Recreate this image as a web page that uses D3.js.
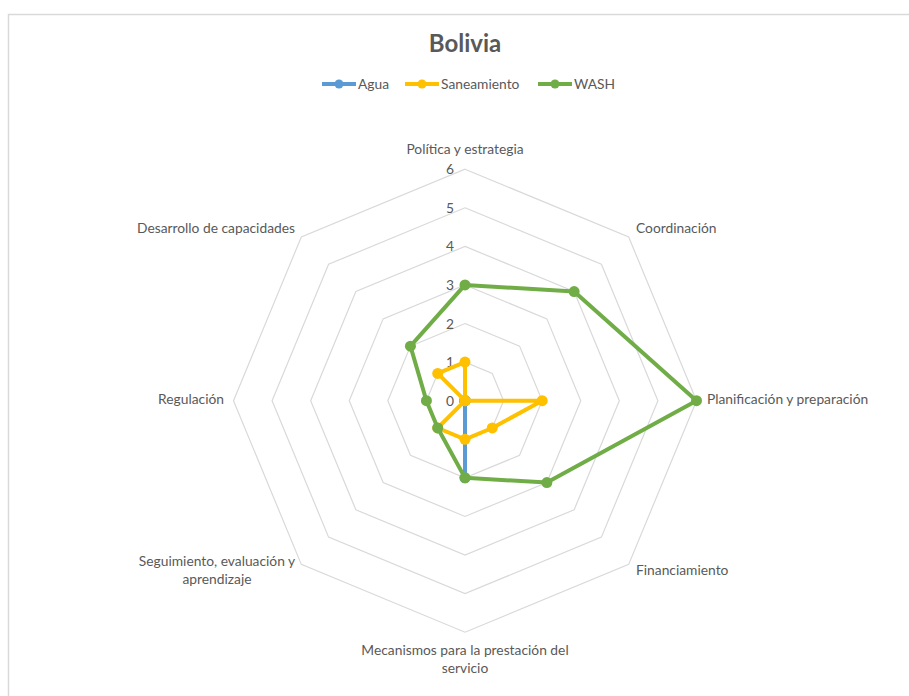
<!DOCTYPE html>
<html>
<head>
<meta charset="utf-8">
<script src="https://cdn.jsdelivr.net/npm/d3@7"></script>
<style>
  body { margin: 0; background: #fff; }
  text { font-family: Lato, "Open Sans", sans-serif; fill: #595959; }
</style>
</head>
<body>
<div id="wrapper"></div>
<script>
// data
const categories = [
  "Política y estrategia",
  "Coordinación",
  "Planificación y preparación",
  "Financiamiento",
  "Mecanismos para la prestación del servicio",
  "Seguimiento, evaluación y aprendizaje",
  "Regulación",
  "Desarrollo de capacidades"
]
const agua = [0, 0, 0, 0, 2, 0, 0, 0]
const saneamiento = [1, 0, 2, 1, 1, 1, 0, 1]
const wash = [3, 4, 6, 3, 2, 1, 1, 2]
const ticks = [0, 1, 2, 3, 4, 5, 6]

const series = [
  { name: "Agua", values: agua, color: "#5B9BD5" },
  { name: "Saneamiento", values: saneamiento, color: "#FFC000" },
  { name: "WASH", values: wash, color: "#70AD47" },
]

const width = 909
const height = 696
const cx = 465
const cy = 400.7
const fs = "13.8px"

const svg = d3.select("#wrapper")
  .append("svg")
  .attr("width", width)
  .attr("height", height)

// chart border
svg.append("rect")
  .attr("x", 8.5).attr("y", 14.5)
  .attr("width", 920).attr("height", 700)
  .attr("fill", "none")
  .attr("stroke", "#d9d9d9")
  .attr("stroke-width", 1.5)

svg.append("text")
  .attr("x", cx).attr("y", 52)
  .attr("text-anchor", "middle")
  .style("font-size", "24px")
  .style("font-weight", "bold")
  .text("Bolivia")

// scales
const rScale = d3.scaleLinear().domain([0, 6]).range([0, 231.5])
const angle = d3.scaleLinear().domain([0, categories.length]).range([0, 2 * Math.PI])

function pt(i, v) {
  const a = angle(i)
  return [cx + rScale(v) * Math.sin(a), cy - rScale(v) * Math.cos(a)]
}

const g = svg.append("g")

// grid octagons
g.selectAll(".grid")
  .data(ticks.filter(t => t > 0))
  .join("polygon")
  .attr("points", t => categories.map((c, i) => pt(i, t).join(",")).join(" "))
  .attr("fill", "none")
  .attr("stroke", "#d9d9d9")
  .attr("stroke-width", 1.2)

// tick labels
g.selectAll(".tick")
  .data(ticks)
  .join("text")
  .attr("x", cx - 11)
  .attr("y", t => cy - rScale(t) + 5)
  .attr("text-anchor", "end")
  .style("font-size", fs)
  .text(t => t)

// category labels
const labelPos = [
  { x: 465, y: 154, anchor: "middle", lines: ["Política y estrategia"] },
  { x: 636, y: 233, anchor: "start", lines: ["Coordinación"] },
  { x: 707, y: 404, anchor: "start", lines: ["Planificación y preparación"] },
  { x: 636, y: 575, anchor: "start", lines: ["Financiamiento"] },
  { x: 465, y: 655, anchor: "middle", lines: ["Mecanismos para la prestación del", "servicio"] },
  { x: 217, y: 566, anchor: "middle", lines: ["Seguimiento, evaluación y", "aprendizaje"] },
  { x: 224, y: 404, anchor: "end", lines: ["Regulación"] },
  { x: 295, y: 233, anchor: "end", lines: ["Desarrollo de capacidades"] },
]
labelPos.forEach(l => {
  const t = g.append("text")
    .attr("x", l.x).attr("y", l.y)
    .attr("text-anchor", l.anchor)
    .style("font-size", fs)
  l.lines.forEach((s, k) => {
    t.append("tspan").attr("x", l.x).attr("dy", k === 0 ? 0 : 17.5).text(s)
  })
})

// series
const lineGen = d3.line().curve(d3.curveLinearClosed)
series.forEach(s => {
  const pts = s.values.map((v, i) => pt(i, v))
  g.append("path")
    .attr("d", lineGen(pts))
    .attr("fill", "none")
    .attr("stroke", s.color)
    .attr("stroke-width", 4)
    .attr("stroke-linejoin", "round")
  g.selectAll(null)
    .data(pts)
    .join("circle")
    .attr("cx", d => d[0]).attr("cy", d => d[1])
    .attr("r", 5.5)
    .attr("fill", s.color)
})

// legend
const legendX = [322, 405, 538]
const legend = svg.append("g")
series.forEach((s, i) => {
  const lg = legend.append("g").attr("transform", `translate(${legendX[i]},84)`)
  lg.append("line").attr("x1", 0).attr("x2", 34).attr("stroke", s.color).attr("stroke-width", 4)
  lg.append("circle").attr("cx", 17).attr("r", 4.5).attr("fill", s.color)
  lg.append("text").attr("x", 36).attr("y", 4.5).style("font-size", fs).text(s.name)
})
</script>
</body>
</html>
